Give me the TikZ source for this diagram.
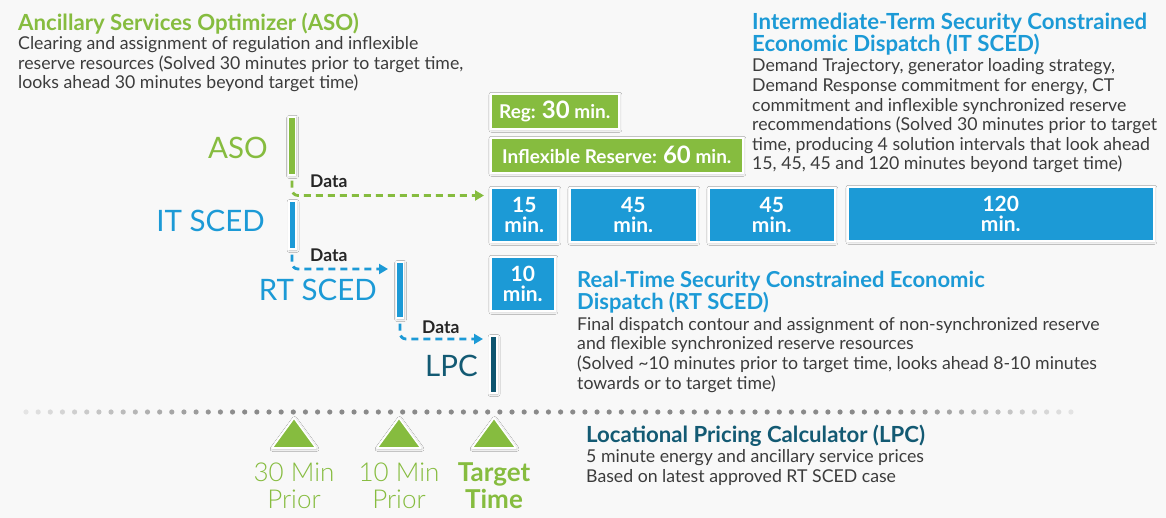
\documentclass[tikz,border=0pt]{standalone}
\usepackage{fontspec}
\setmainfont{Lato}
\IfFontExistsTF{Lato Light}{\newfontfamily\lightfont{Lato Light}}{\newfontfamily\lightfont{Lato}}
\usetikzlibrary{arrows.meta,shadows.blur,calc}
\definecolor{asogreen}{HTML}{86BC3F}
\definecolor{itblue}{HTML}{1C9AD6}
\definecolor{lpcteal}{HTML}{135A73}
\definecolor{lpcbarc}{HTML}{0E5570}
\definecolor{txt}{HTML}{3C3C3C}
\definecolor{bgc}{HTML}{F8F8F8}
\definecolor{dotgray}{HTML}{8A8A8A}
\tikzset{
 txtblock/.style={inner sep=0pt, anchor=base west, align=left, text=txt, font=\fontsize{17.7}{19.6}\selectfont},
 ttl/.style={inner sep=0pt, anchor=base west, align=left, font=\bfseries\fontsize{22.2}{22.4}\selectfont},
 bigl/.style={inner sep=0pt, anchor=base east, font=\fontsize{29.5}{30}\selectfont},
 datal/.style={inner sep=0pt, anchor=base west, text=black!85, font=\bfseries\fontsize{17.5}{18}\selectfont},
 softshadow/.style={blur shadow={shadow blur steps=6, shadow xshift=0.6pt, shadow yshift=-1pt, shadow blur radius=2.5pt, shadow opacity=22}},
 sbar/.style={rectangle, draw=white, line width=1.3pt, minimum width=7pt, inner sep=0pt, softshadow},
 tbox/.style={rectangle, draw=white, line width=1.6pt, inner sep=0pt, anchor=north west, text=white, align=center, softshadow},
 bluebox/.style={tbox, fill=itblue, font=\bfseries\fontsize{21}{20}\selectfont},
 greenbox/.style={tbox, fill=asogreen, font=\bfseries\fontsize{19}{18}\selectfont},
 darrow/.style={line width=2.8pt, dash pattern=on 7pt off 5pt, rounded corners=6pt, -{Triangle[width=10pt,length=9pt]}},
 tri/.style={fill=asogreen, draw=white, line width=1.6pt, line join=round, softshadow},
 tlab/.style={inner sep=0pt, anchor=base, align=center, text=asogreen, font=\lightfont\fontsize{26}{27}\selectfont},
}
\newcommand{\bignum}[1]{{\fontsize{24}{18}\selectfont #1}}
\begin{document}
\begin{tikzpicture}[x=1pt,y=-1pt]
\useasboundingbox (0,0) rectangle (1166,518);
\fill[bgc] (0,0) rectangle (1166,518);

% ---- text blocks (anchor = baseline of last line)
\node[ttl, text=asogreen] (asottl) at (18,31) {Ancillary Services Optimizer (ASO)};
\node[txtblock] (asotxt) at (18,89) {Clearing and assignment of regulation and inflexible\\reserve resources (Solved 30 minutes prior to target time,\\looks ahead 30 minutes beyond target time)};

\node[ttl, text=itblue] (itttl) at (752,51.7) {Intermediate-Term Security Constrained\\Economic Dispatch (IT SCED)};
\node[txtblock] (ittxt) at (752,170) {Demand Trajectory, generator loading strategy,\\Demand Response commitment for energy, CT\\commitment and inflexible synchronized reserve\\recommendations (Solved 30 minutes prior to target\\time, producing 4 solution intervals that look ahead\\15, 45, 45 and 120 minutes beyond target time)};

\node[ttl, text=itblue, font=\bfseries\fontsize{22}{21}\selectfont] (rtttl) at (577,309) {Real-Time Security Constrained Economic\\Dispatch (RT SCED)};
\node[txtblock] (rttxt) at (577,389) {Final dispatch contour and assignment of non-synchronized reserve\\and flexible synchronized reserve resources\\(Solved \textasciitilde10 minutes prior to target time, looks ahead 8-10 minutes\\towards or to target time)};

\node[ttl, text=lpcteal] (lpcttl) at (586,442) {Locational Pricing Calculator (LPC)};
\node[txtblock] (lpctxt) at (586,482) {5 minute energy and ancillary service prices\\Based on latest approved RT SCED case};

% ---- stage labels
\node[bigl, text=asogreen] (asolab) at (268,159) {ASO};
\node[bigl, text=itblue] (itlab) at (265,232) {IT SCED};
\node[bigl, text=itblue] (rtlab) at (377,301) {RT SCED};
\node[bigl, text=lpcteal] (lpclab) at (478,376) {LPC};

% ---- bars
\node[sbar, fill=asogreen, minimum height=58pt] (asobar) at (292,146) {};
\node[sbar, fill=itblue, minimum height=48pt] (itbar) at (292.5,225) {};
\node[sbar, fill=itblue, minimum height=56pt] (rtbar) at (400,290) {};
\node[sbar, fill=lpcbarc, minimum height=57pt] (lpcbar) at (493.5,364.5) {};

% ---- boxes
\node[greenbox, minimum width=128pt, minimum height=35pt] (reg) at (490,93) {Reg: \bignum{30} min.};
\node[greenbox, minimum width=252pt, minimum height=35pt] (infl) at (490,137) {Inflexible Reserve: \bignum{60} min.};
\node[bluebox, minimum width=67pt, minimum height=54pt] (b15) at (490,187) {15\\min.};
\node[bluebox, minimum width=127pt, minimum height=54pt] (b45a) at (569,187) {45\\min.};
\node[bluebox, minimum width=126pt, minimum height=54pt] (b45b) at (708,187) {45\\min.};
\node[bluebox, minimum width=306pt, minimum height=54pt] (b120) at (847,186) {120\\min.};
\node[bluebox, minimum width=64pt, minimum height=54pt] (b10) at (490,256) {10\\min.};

% ---- data connectors
\coordinate (g1end) at (484,195.5);
\coordinate (b1end) at (388,269);
\coordinate (b2end) at (483,339);
\draw[darrow, asogreen] ($(asobar.south)+(0,5)$) |- (g1end);
\draw[darrow, itblue] ($(itbar.south)+(-0.5,5)$) |- (b1end);
\draw[darrow, itblue] ($(rtbar.south)+(0,5)$) |- (b2end);
\node[datal] (d1) at (310,188) {Data};
\node[datal] (d2) at (310,262) {Data};
\node[datal] (d3) at (422,333) {Data};

% ---- timeline dots
\foreach \i in {0,...,86} {
  \pgfmathsetmacro\xx{26+\i*12.15}
  \pgfmathsetmacro\op{min(1,min(0.18+(\xx-26)/260,0.18+(1072-\xx)/220))}
  \fill[dotgray, opacity=\op] (\xx,412) circle (2.6);
}

% ---- triangles
\foreach \cx in {294,399,494} {
  \filldraw[tri] (\cx,418) -- (\cx+22,448) -- (\cx-22,448) -- cycle;
}
\node[tlab] (l30) at (294,508) {30 Min\\Prior};
\node[tlab] (l10) at (399,508) {10 Min\\Prior};
\node[tlab, font=\bfseries\fontsize{26}{27}\selectfont] (ltt) at (494,508) {Target\\Time};
\end{tikzpicture}
\end{document}
